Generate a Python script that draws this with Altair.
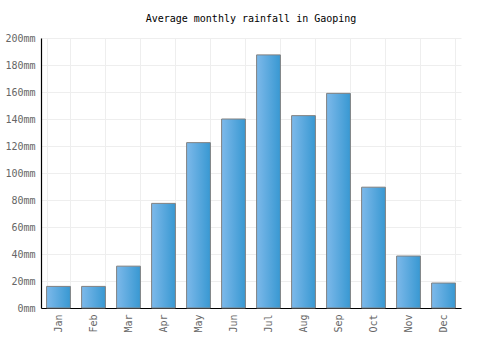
import altair as alt
import pandas as pd

months = ["Jan", "Feb", "Mar", "Apr", "May", "Jun", "Jul", "Aug", "Sep", "Oct", "Nov", "Dec"]
rainfall = [16, 16, 31, 77.5, 122.5, 140, 187.5, 142.5, 159, 89.5, 38.5, 18.5]

df = pd.DataFrame({"month": months, "rain": rainfall})

FONT = "DejaVu Sans Mono"

bars = alt.Chart(df).mark_bar(
    color=alt.Gradient(
        gradient="linear",
        stops=[alt.GradientStop(color="#7db9ea", offset=0), alt.GradientStop(color="#3898d2", offset=1)],
        x1=0, x2=1, y1=0, y2=0,
    ),
    stroke="#808080",
    strokeWidth=1,
).encode(
    x=alt.X("month:N", sort=months, title=None,
            scale=alt.Scale(paddingInner=0.32, paddingOuter=0.16),
            axis=alt.Axis(labelAngle=-90, labelColor="#666666", labelFont=FONT, labelFontSize=10,
                          ticks=False, domainColor="#000000", domainWidth=1.2,
                          grid=True, gridColor="#eeeeee", tickBand="extent", labelPadding=6,
                          labelBaseline="middle", labelAlign="right")),
    y=alt.Y("rain:Q", title=None,
            scale=alt.Scale(domain=[0, 200], nice=False),
            axis=alt.Axis(values=list(range(0, 201, 20)), labelExpr="datum.value + 'mm'",
                          labelColor="#666666", labelFont=FONT, labelFontSize=10,
                          ticks=False, domainColor="#000000", domainWidth=1.2,
                          gridColor="#eeeeee", labelPadding=6)),
)

chart = bars.properties(
    width=420,
    height=270,
    title=alt.TitleParams("Average monthly rainfall in Gaoping", font=FONT, fontSize=10,
                          fontWeight="normal", color="#000000", anchor="middle", offset=9),
    autosize="none",
    padding={"left": 41, "top": 38, "right": 39, "bottom": 42},
).configure_view(stroke=None)

chart.save("out.html", embed_options={"renderer": "svg", "actions": False})
